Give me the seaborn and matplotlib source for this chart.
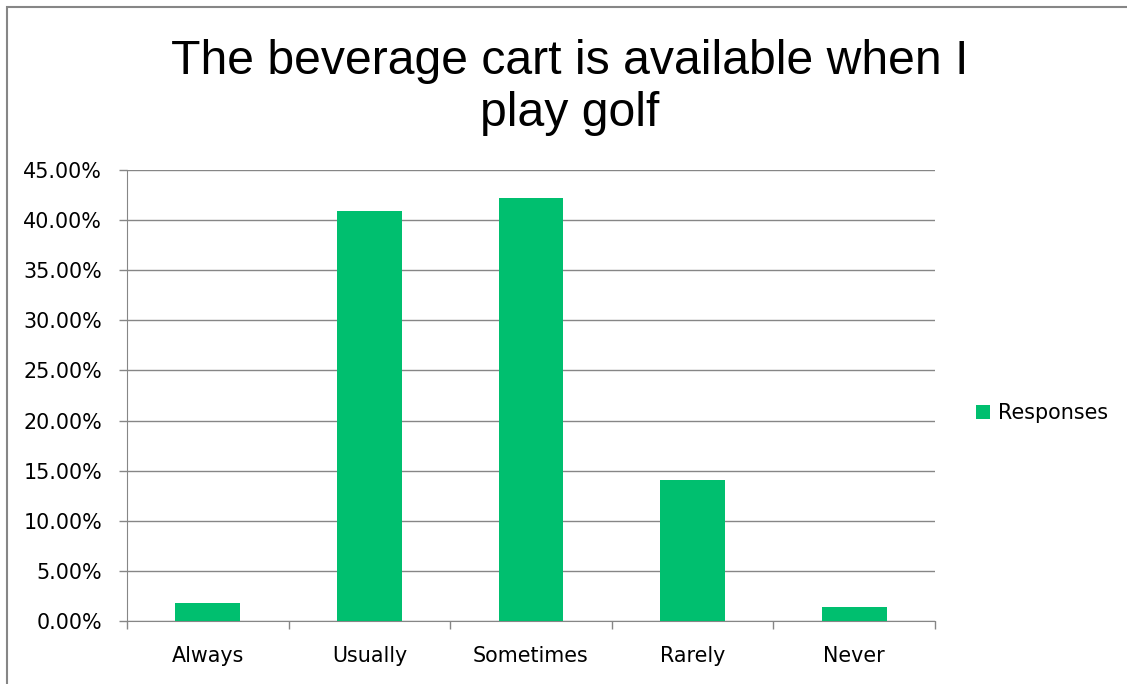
import matplotlib
matplotlib.use("Agg")
import matplotlib.pyplot as plt
import matplotlib.patches as mpatches
from matplotlib.ticker import PercentFormatter, FixedLocator
import seaborn as sns
import pandas as pd

# Data
categories = ["Always", "Usually", "Sometimes", "Rarely", "Never"]
responses = [1.75, 40.9, 42.2, 14.07, 1.35]

df = pd.DataFrame({"Answer": categories, "Responses": responses})

sns.set_style("white")
plt.rcParams["font.family"] = ["DejaVu Sans"]

W, H = 1127, 684
fig = plt.figure(figsize=(W / 100, H / 100), dpi=100)
ax = fig.add_axes([127 / W, 1 - 621 / H, (935 - 127) / W, (621 - 170) / H])

green = "#00BF6F"
grey = "#868686"
sns.barplot(data=df, x="Answer", y="Responses", color=green, width=0.4,
            saturation=1, ax=ax, zorder=3, label="Responses", linewidth=0)

ax.set_ylim(0, 45)
ax.set_xlim(-0.5, 4.5)
ax.yaxis.set_major_locator(FixedLocator([i * 5 for i in range(10)]))
ax.yaxis.set_major_formatter(PercentFormatter(decimals=2))
ax.grid(axis="y", color=grey, linewidth=1, zorder=0)
ax.set_xlabel("")
ax.set_ylabel("")
for s in ["top", "right"]:
    ax.spines[s].set_visible(False)
ax.spines["left"].set_color(grey)
ax.spines["bottom"].set_color(grey)

# category ticks drawn between bars like a spreadsheet chart
ax.set_xticks(range(len(categories)))
ax.set_xticklabels(categories)
ax.tick_params(axis="x", length=0, labelsize=14.9, pad=18, colors="black")
ax.set_xticks([i - 0.5 for i in range(len(categories) + 1)], minor=True)
ax.tick_params(axis="x", which="minor", bottom=True, length=6, width=1,
               color=grey, direction="out")
ax.tick_params(axis="y", left=True, length=6, width=1, color=grey, labelsize=14.9,
               labelcolor="black", direction="out", pad=12)

fig.text(570 / W, 1 - 87 / H, "The beverage cart is available when I\nplay golf",
         ha="center", va="center", fontsize=34.7, color="black",
         family=["Liberation Sans", "DejaVu Sans"], linespacing=1.2)

handles, labels = ax.get_legend_handles_labels()
if ax.get_legend():
    ax.get_legend().remove()
leg = fig.legend(handles, labels, loc="center left",
                 bbox_to_anchor=(976 / W, 1 - 413 / H), frameon=False,
                 fontsize=14.9, handlelength=0.7, handleheight=0.7,
                 handletextpad=0.35, borderpad=0, borderaxespad=0)
for t in leg.get_texts():
    t.set_color("black")

# outer chart frame
fig.patches.append(mpatches.Rectangle((7 / W, -0.01), 1.1, 1 - 7 / H + 0.01,
                                      transform=fig.transFigure, fill=False,
                                      edgecolor=grey, linewidth=1.5))

fig.savefig("out.png", dpi=100)
